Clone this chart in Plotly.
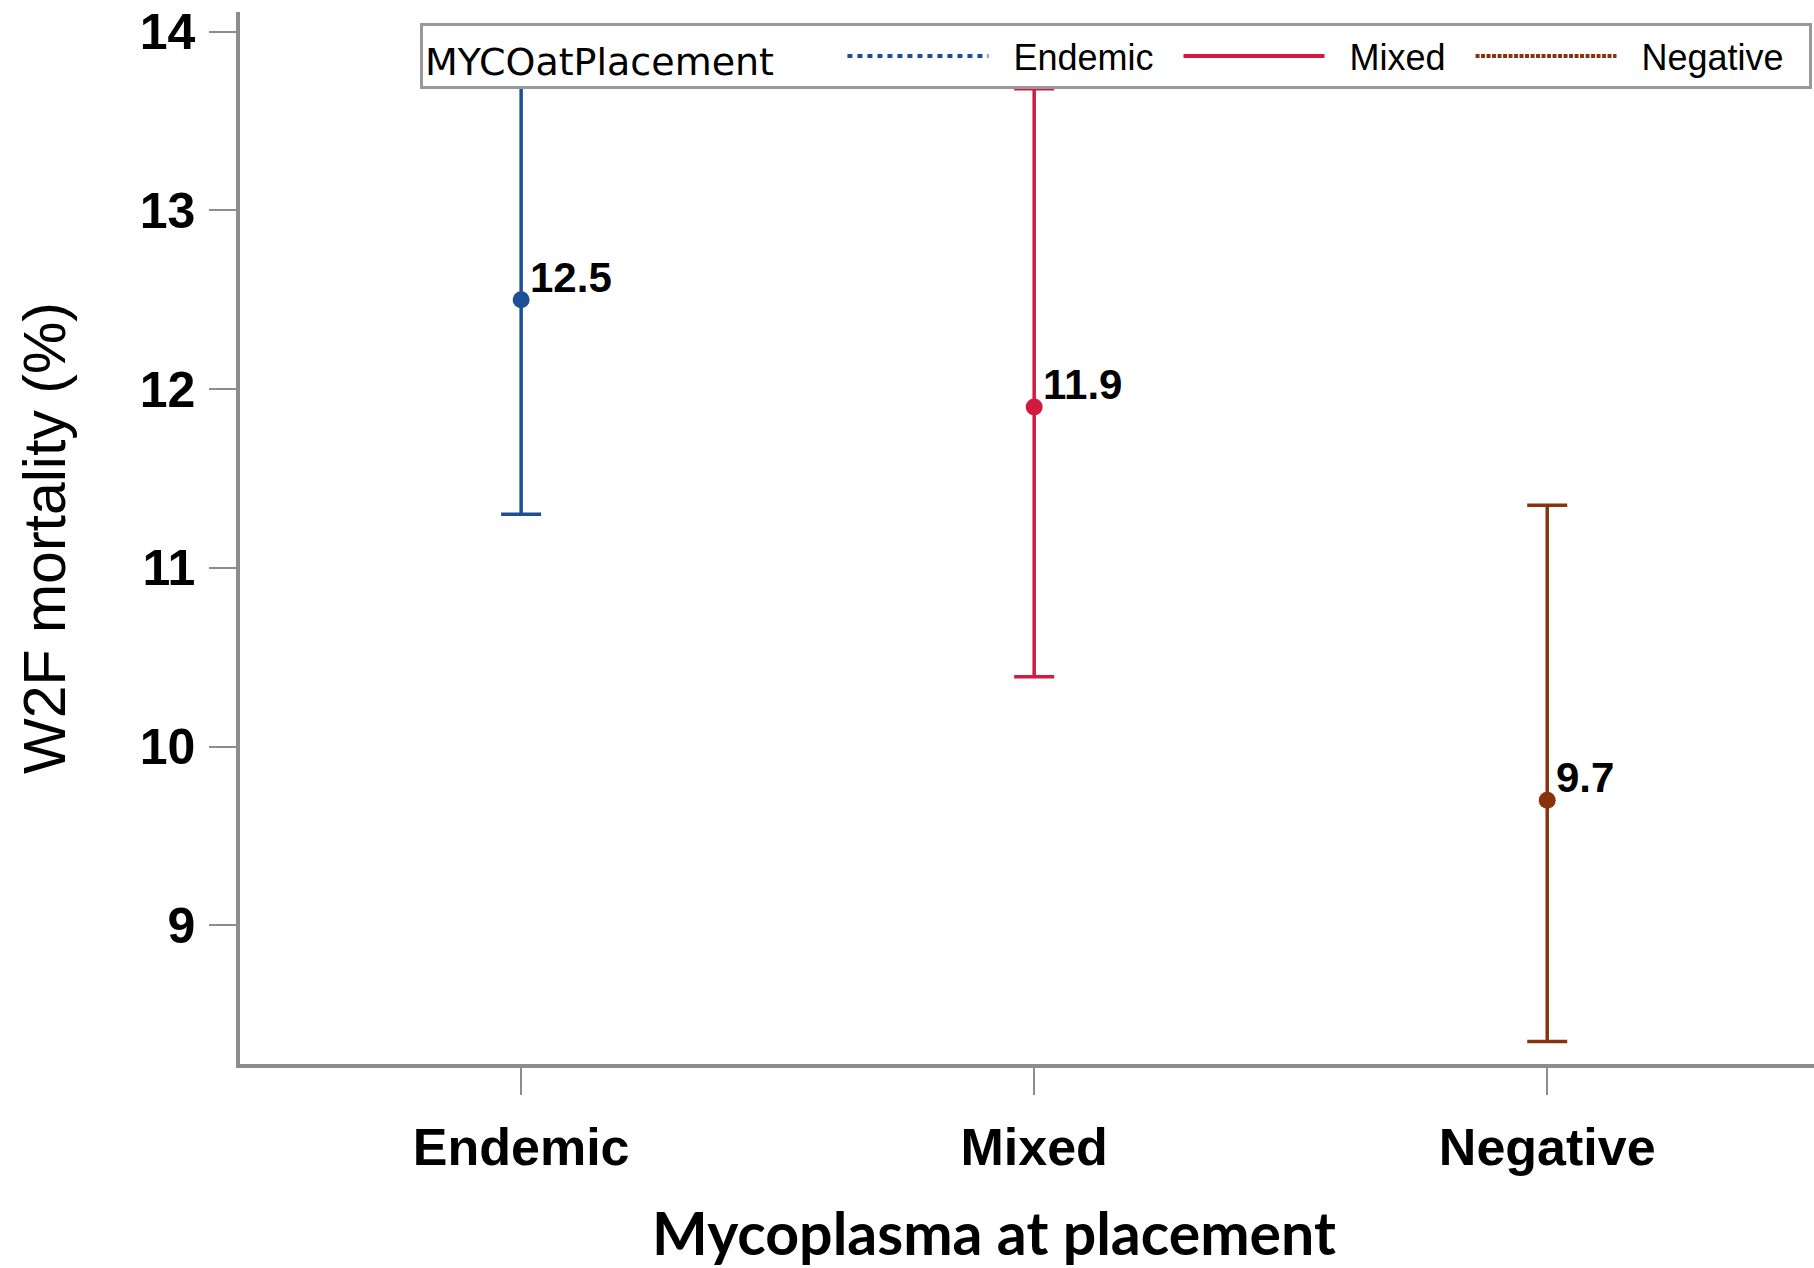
import plotly.graph_objects as go

categories = ["Endemic", "Mixed", "Negative"]
means = [12.5, 11.9, 9.7]
upper = [13.90, 13.68, 11.35]
lower = [11.30, 10.39, 8.35]
labels = ["12.5", "11.9", "9.7"]
colors = ["#1c4f94", "#d2193f", "#86330e"]
dashes = ["5px,5px", "solid", "4px,1.5px"]
y_ticks = [9, 10, 11, 12, 13, 14]

NB = "\u00a0"

fig = go.Figure()
for i, cat in enumerate(categories):
    fig.add_trace(go.Scatter(
        x=[cat], y=[means[i]],
        mode="markers",
        marker=dict(color=colors[i], size=17),
        error_y=dict(type="data", symmetric=False,
                     array=[upper[i] - means[i]], arrayminus=[means[i] - lower[i]],
                     color=colors[i], thickness=3.5, width=20),
        showlegend=False,
    ))
    fig.add_annotation(
        x=cat, y=means[i], text=labels[i], showarrow=False,
        xanchor="left", yanchor="bottom", xshift=7, yshift=-3,
        font=dict(family="Liberation Sans", size=42, color="black", weight="bold"),
    )
for i, cat in enumerate(categories):
    fig.add_trace(go.Scatter(
        x=[None], y=[None], mode="lines", name=NB * 2 + cat + NB * 2,
        line=dict(color=colors[i], width=4, dash=dashes[i]),
        showlegend=True,
    ))

fig.add_annotation(
    text="Mycoplasma at placement", showarrow=False,
    xref="paper", yref="paper", x=0.479, y=0, xanchor="center", yanchor="middle",
    yshift=-168,
    font=dict(family="Lato", size=59, color="black", weight="bold"),
)

fig.update_layout(
    width=1814, height=1268,
    margin=dict(l=240, r=0, t=12, b=204, autoexpand=False),
    plot_bgcolor="white", paper_bgcolor="white",
    showlegend=True,
    legend=dict(
        orientation="h", x=0.1144, xanchor="left", y=0.9895, yanchor="top",
        title=dict(text="MYCOatPlacement" + NB * 5,
                   font=dict(family="DejaVu Sans", size=38, color="black")),
        font=dict(family="Liberation Sans", size=36, color="black"),
        bordercolor="#999999", borderwidth=3, bgcolor="white",
        itemwidth=141,
    ),
    xaxis=dict(
        type="category", categoryorder="array", categoryarray=categories,
        range=[-0.548, 2.52],
        showline=True, linecolor="#8c8c8c", linewidth=3.5,
        ticks="outside", ticklen=27, tickwidth=2, tickcolor="#8c8c8c",
        ticklabelstandoff=8,
        tickfont=dict(family="Liberation Sans", size=52, color="black", weight="bold"),
        showgrid=False, zeroline=False,
    ),
    yaxis=dict(
        range=[8.224, 14.11],
        tickvals=y_ticks,
        showline=True, linecolor="#8c8c8c", linewidth=3.5,
        ticks="outside", ticklen=27, tickwidth=2, tickcolor="#8c8c8c",
        ticklabelstandoff=4,
        tickfont=dict(family="Liberation Sans", size=50, color="black", weight="bold"),
        showgrid=False, zeroline=False,
        title=dict(text="W2F mortality (%)", standoff=56,
                   font=dict(family="Liberation Sans", size=59, color="black")),
    ),
)

fig.write_html("out.html")
